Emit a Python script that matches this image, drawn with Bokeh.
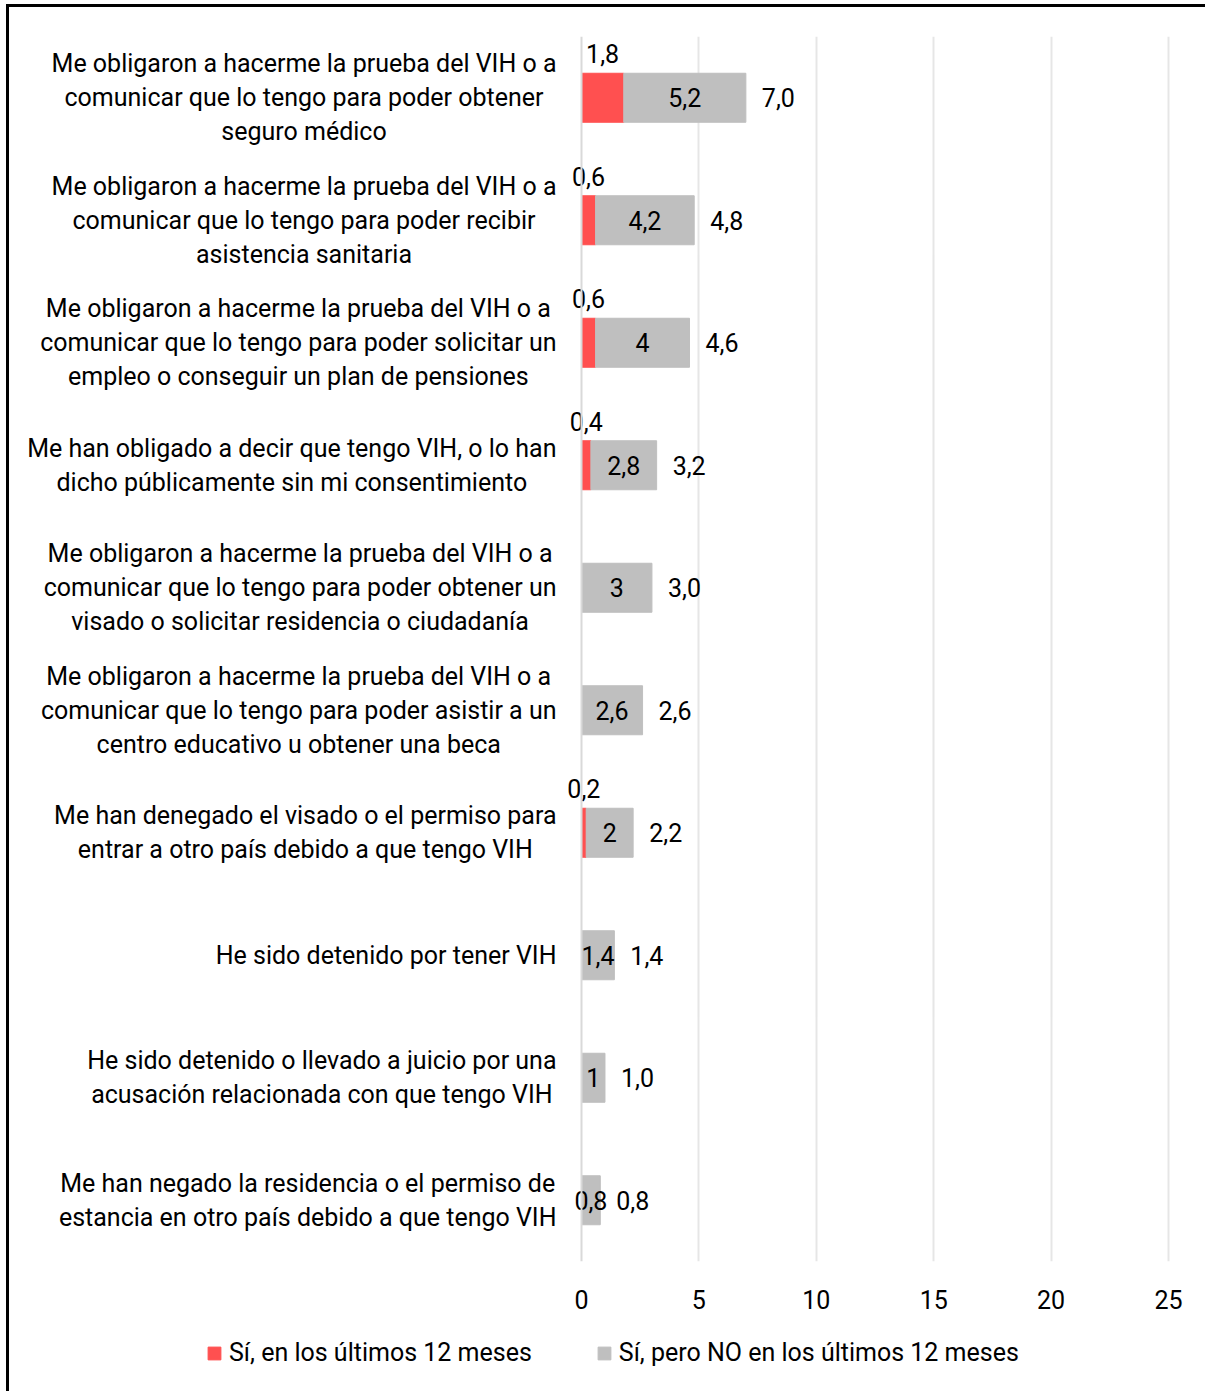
from bokeh.plotting import figure
from bokeh.models import ColumnDataSource, Range1d, FixedTicker, Legend, LegendItem, Span
from bokeh.layouts import column
from bokeh.core.properties import value
from bokeh.embed import file_html
from bokeh.resources import INLINE

categories = [
    "Me obligaron a hacerme la prueba del VIH o a\ncomunicar que lo tengo para poder obtener\nseguro médico",
    "Me obligaron a hacerme la prueba del VIH o a\ncomunicar que lo tengo para poder recibir\nasistencia sanitaria",
    "Me obligaron a hacerme la prueba del VIH o a\ncomunicar que lo tengo para poder solicitar un\nempleo o conseguir un plan de pensiones",
    "Me han obligado a decir que tengo VIH, o lo han\ndicho públicamente sin mi consentimiento",
    "Me obligaron a hacerme la prueba del VIH o a\ncomunicar que lo tengo para poder obtener un\nvisado o solicitar residencia o ciudadanía",
    "Me obligaron a hacerme la prueba del VIH o a\ncomunicar que lo tengo para poder asistir a un\ncentro educativo u obtener una beca",
    "Me han denegado el visado o el permiso para\nentrar a otro país debido a que tengo VIH",
    "He sido detenido por tener VIH",
    "He sido detenido o llevado a juicio por una\nacusación relacionada con que tengo VIH",
    "Me han negado la residencia o el permiso de\nestancia en otro país debido a que tengo VIH",
]
last12 = [1.8, 0.6, 0.6, 0.4, 0.0, 0.0, 0.2, 0.0, 0.0, 0.0]
before12 = [5.2, 4.2, 4.0, 2.8, 3.0, 2.6, 2.0, 1.4, 1.0, 0.8]
series_names = ["Sí, en los últimos 12 meses", "Sí, pero NO en los últimos 12 meses"]
x_ticks = [0, 5, 10, 15, 20, 25]

RED = "#FF5050"
GRAY = "#BFBFBF"
FONT = "Roboto"
FS = "25px"

def fmt_g(v):
    return f"{v:g}".replace(".", ",")

def fmt_1(v):
    return f"{v:.1f}".replace(".", ",")

ys = list(range(len(categories)))
totals = [a + b for a, b in zip(last12, before12)]

src = ColumnDataSource(dict(
    y=ys,
    zero=[0.0] * len(ys),
    cat=categories,
    r1=last12,
    g1=totals,
    gmid=[a + b / 2 for a, b in zip(last12, before12)],
    glab=[fmt_g(b) for b in before12],
    tot=totals,
    tlab=[fmt_1(t) for t in totals],
))
ridx = [i for i, v in enumerate(last12) if v > 0]
rsrc = ColumnDataSource(dict(
    y=[ys[i] for i in ridx],
    x=[last12[i] / 2 for i in ridx],
    lab=[fmt_g(last12[i]) for i in ridx],
))

# layout: axis value 0 sits 572 px into the canvas, 23.48 px per unit
W = 1196
PX = 23.48
X0 = 572
H1 = 1310
p = figure(width=W, height=H1, output_backend="svg", toolbar_location=None,
           x_range=Range1d(-X0 / PX, (W - X0) / PX), y_range=Range1d(len(categories) - 0.5, -0.5),
           y_axis_location=None,
           min_border_left=0, min_border_right=0, min_border_top=29, min_border_bottom=H1 - 29 - 1225)
p.outline_line_color = None
p.background_fill_color = "white"

p.xgrid.ticker = FixedTicker(ticks=x_ticks[1:])
p.xgrid.grid_line_color = "#E6E6E6"
p.xgrid.grid_line_width = 2
p.ygrid.grid_line_color = None
p.add_layout(Span(location=0, dimension="height", line_color="#D9D9D9", line_width=2))

red_r = p.hbar(y="y", left="zero", right="r1", height=0.4, color=RED, source=src)
gray_r = p.hbar(y="y", left="r1", right="g1", height=0.4, color=GRAY, source=src)

common = dict(text_font=value(FONT), text_font_size=FS, text_color="black", text_baseline="middle")
p.text(x="gmid", y="y", text="glab", source=src, text_align="center", **common)
p.text(x="tot", y="y", text="tlab", source=src, text_align="left", x_offset=16, **common)
p.text(x="x", y="y", text="lab", source=rsrc, text_align="center", y_offset=-44, **common)
p.text(x="zero", y="y", text="cat", source=src, text_align="center", anchor=value("center_right"),
       x_offset=-25, text_line_height=1.18, **common)

p.xaxis.ticker = FixedTicker(ticks=x_ticks)
p.xaxis.axis_line_color = None
p.xaxis.major_tick_line_color = None
p.xaxis.minor_tick_line_color = None
p.xaxis.major_label_text_font = FONT
p.xaxis.major_label_text_font_size = FS
p.xaxis.major_label_text_color = "black"
p.xaxis.major_label_standoff = 22

# legend strip (its bars share the data but lie outside this strip's ranges)
H2 = 74
q = figure(width=W, height=H2, output_backend="svg", toolbar_location=None,
           x_range=Range1d(-1000, -999), y_range=Range1d(-1000, -999),
           x_axis_location=None, y_axis_location=None,
           min_border=0)
q.outline_line_color = None
q.grid.grid_line_color = None
lr = q.hbar(y="y", left="zero", right="r1", height=0.4, color=RED, source=src)
lg = q.hbar(y="y", left="r1", right="g1", height=0.4, color=GRAY, source=src)
legend = Legend(items=[LegendItem(label=series_names[0], renderers=[lr]),
                       LegendItem(label=series_names[1], renderers=[lg])],
                orientation="horizontal", location=(197, 24),
                label_text_font=FONT, label_text_font_size=FS, label_text_color="black",
                glyph_width=16, glyph_height=16, label_standoff=7, spacing=64,
                border_line_color=None, background_fill_alpha=0, padding=0, margin=0)
q.add_layout(legend, "center")

layout = column(p, q, spacing=0)
layout.styles = {"border-left": "3px solid black", "border-top": "3px solid black",
                 "margin-left": "6px", "margin-top": "4px"}

open("out.html", "w").write(file_html(layout, INLINE))
